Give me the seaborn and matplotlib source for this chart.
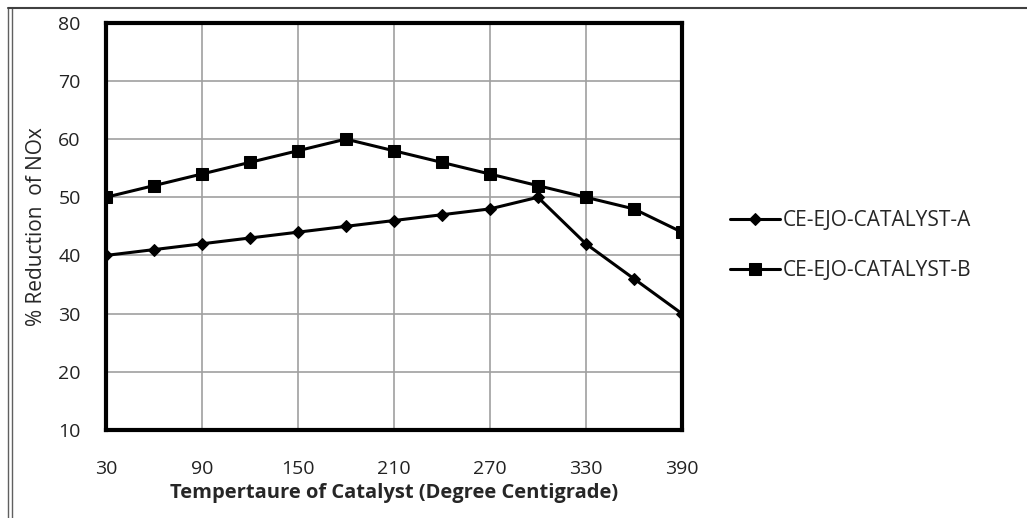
import numpy as np
import pandas as pd
import seaborn as sns
import matplotlib.pyplot as plt
from matplotlib.lines import Line2D

# Данные
temperature = [30, 60, 90, 120, 150, 180, 210, 240, 270, 300, 330, 360, 390]
catalyst_a = [40, 41, 42, 43, 44, 45, 46, 47, 48, 50, 42, 36, 30]
catalyst_b = [50, 52, 54, 56, 58, 60, 58, 56, 54, 52, 50, 48, 44]
x_ticks = [30, 90, 150, 210, 270, 330, 390]
y_ticks = [10, 20, 30, 40, 50, 60, 70, 80]

sns.set_style('white')
plt.rcParams['font.family'] = ['Open Sans', 'DejaVu Sans']

fig = plt.figure(figsize=(10.27, 5.18), dpi=100)
ax = fig.add_axes([0.103, 0.170, 0.561, 0.786])

sns.lineplot(x=temperature, y=catalyst_a, ax=ax, color='black', linewidth=2.2,
             marker='D', markersize=6, markeredgecolor='black', label='CE-EJO-CATALYST-A')
sns.lineplot(x=temperature, y=catalyst_b, ax=ax, color='black', linewidth=2.2,
             marker='s', markersize=9, markeredgecolor='black', label='CE-EJO-CATALYST-B')

ax.set_xlim(30, 390)
ax.set_ylim(10, 80)
ax.set_xticks(x_ticks)
ax.set_yticks(y_ticks)
ax.grid(True, color='#a0a0a0', linewidth=1.2)
ax.set_axisbelow(True)
for s in ax.spines.values():
    s.set_visible(True)
    s.set_color('black')
    s.set_linewidth(3)
ax.tick_params(axis='both', direction='out', length=6, width=1, color='#a0a0a0',
               labelsize=14, labelcolor='#222222')
ax.tick_params(axis='y', pad=12)
ax.tick_params(axis='x', pad=16)

ax.set_xlabel('Tempertaure of Catalyst (Degree Centigrade)', fontsize=14.5,
              fontweight='bold', labelpad=3)
ax.set_ylabel('% Reduction  of NOx', fontsize=15, fontweight='medium', labelpad=8)

ax.legend(loc='upper left', bbox_to_anchor=(1.069, 0.560), borderaxespad=0,
          frameon=False, fontsize=15, handlelength=2.4, handletextpad=0.15,
          labelspacing=1.4)

# рамка рисунка
fig.add_artist(Line2D([0.008, 0.008], [0, 0.985], transform=fig.transFigure, color='#606060', lw=1))
fig.add_artist(Line2D([0.012, 0.012], [0, 0.985], transform=fig.transFigure, color='#606060', lw=1))
fig.add_artist(Line2D([0.008, 1.0], [0.985, 0.985], transform=fig.transFigure, color='#404040', lw=1.5))

plt.savefig('out.png', dpi=100)
